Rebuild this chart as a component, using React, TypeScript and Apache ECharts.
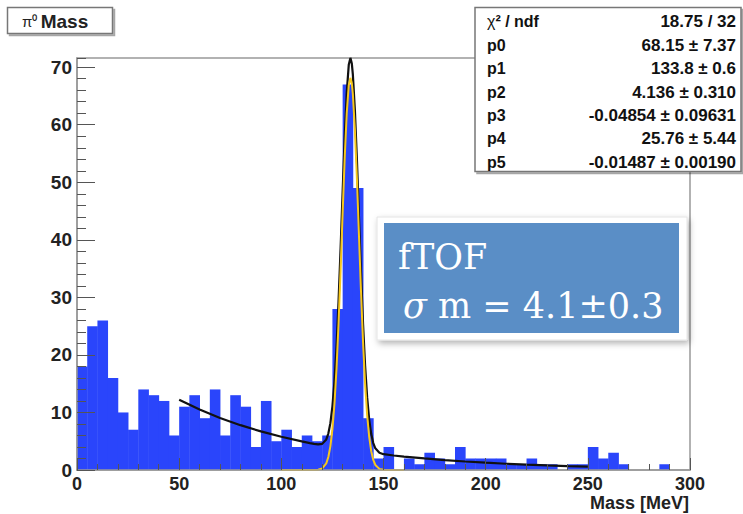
import React, { useEffect, useRef } from "react";
import * as echarts from "echarts";

// Histogram: bin lower edges (MeV), bin width 5 MeV, and counts
const BIN_WIDTH = 5;
const binStarts = [
  0, 5, 10, 15, 20, 25, 30, 35, 40, 45, 50, 55, 60, 65, 70, 75, 80, 85, 90, 95,
  100, 105, 110, 115, 120, 125, 130, 135, 140, 145, 150, 155, 160, 165, 170, 175, 180, 185, 190, 195,
  200, 205, 210, 215, 220, 225, 230, 235, 240, 245, 250, 255, 260, 265, 270, 275, 280, 285, 290, 295,
];
const counts = [
  18, 25, 26, 16, 10, 7, 14, 13, 12, 6, 11, 13, 9, 14, 6, 13, 11, 4, 12, 5,
  7, 4, 6, 5, 6, 28, 67, 49, 9, 2, 4, 0, 2, 1, 3, 2, 1, 4, 2, 2,
  2, 2, 1, 1, 2, 1, 1, 0, 1, 1, 4, 2, 3, 1, 0, 0, 0, 1, 0, 0,
];

// Full fit curve (black)
const fitX = [50, 60, 70, 80, 90, 100, 110, 114, 116, 118, 120, 122, 123, 124, 125, 126, 127, 128, 129, 130, 131, 132, 133, 133.8, 134.5, 135, 136, 137, 138, 139, 140, 141, 142, 143, 144, 145, 146, 148, 150, 155, 160, 170, 180, 190, 200, 210, 220, 230, 240, 250];
const fitY = [12.2, 10.51, 9.05, 7.79, 6.71, 5.77, 4.97, 4.68, 4.55, 4.46, 4.54, 5.31, 6.34, 8.14, 11.06, 15.42, 21.49, 29.28, 38.49, 48.37, 57.82, 65.56, 70.41, 71.62, 70.62, 68.76, 62.52, 53.83, 43.96, 34.13, 25.32, 18.09, 12.62, 8.76, 6.24, 4.68, 3.77, 2.99, 2.75, 2.52, 2.34, 2.01, 1.72, 1.48, 1.27, 1.09, 0.93, 0.79, 0.68, 0.58];

// Signal-only curve (yellow)
const sigX = [100, 110, 114, 116, 118, 120, 122, 123, 124, 125, 126, 127, 128, 129, 130, 131, 132, 133, 133.8, 134.5, 135, 136, 137, 138, 139, 140, 141, 142, 143, 144, 145, 146, 148, 150, 152, 160];
const sigY = [0, 0, 0, 0.01, 0.05, 0.26, 1.16, 2.25, 4.11, 7.09, 11.51, 17.64, 25.49, 34.75, 44.69, 54.19, 61.99, 66.89, 68.15, 67.18, 65.34, 59.16, 50.52, 40.7, 30.92, 22.16, 14.98, 9.55, 5.74, 3.26, 1.74, 0.88, 0.19, 0.03, 0, 0];

// Stats box
const statLabels = ["χ² / ndf", "p0", "p1", "p2", "p3", "p4", "p5"];
const statValues = ["18.75 / 32", "68.15 ± 7.37", "133.8 ± 0.6", "4.136 ± 0.310", "-0.04854 ± 0.09631", "25.76 ± 5.44", "-0.01487 ± 0.00190"];

const xTicks = { min: 0, max: 300, interval: 50 };
const yTicks = { min: 0, max: 71.6, interval: 10 };

const SANS = "'Liberation Sans', Arial, Helvetica, sans-serif";
const SERIF = "'DejaVu Serif', 'Liberation Serif', serif";
const BLUE = "#2a45fb";

export default function App() {
  const ref = useRef<HTMLDivElement>(null);
  useEffect(() => {
    if (!ref.current) return;
    const chart = echarts.init(ref.current, undefined, { renderer: "svg" });

    const histData = binStarts.map((x, i) => [x, counts[i]]);
    const fitData = fitX.map((x, i) => [x, fitY[i]]);
    const sigData = sigX.map((x, i) => [x, sigY[i]]);

    const rowY = [21, 45, 68.5, 92, 115, 138.5, 162];
    const statGraphics: any[] = [];
    statLabels.forEach((lab, i) => {
      statGraphics.push({
        type: "text",
        x: 487,
        y: rowY[i],
        z: 102,
        style: {
          text: i === 0 ? "{n|χ}{b|² / ndf}" : lab,
          font: `bold 16px ${SANS}`,
          fill: "#111",
          align: "left",
          verticalAlign: "middle",
          rich: i === 0 ? {
            n: { fontFamily: SANS, fontSize: 16, fontWeight: "normal", fill: "#111" },
            b: { fontFamily: SANS, fontSize: 16, fontWeight: "bold", fill: "#111" },
          } : undefined,
        },
      });
      statGraphics.push({
        type: "text",
        x: 736,
        y: rowY[i],
        z: 102,
        style: {
          text: statValues[i],
          font: `bold 17px ${SANS}`,
          fill: "#111",
          align: "right",
          verticalAlign: "middle",
        },
      });
    });

    chart.setOption({
      animation: false,
      backgroundColor: "#fff",
      grid: {
        left: 77, right: 53, top: 58, bottom: 44,
        show: true, borderColor: "#999", borderWidth: 1.5, backgroundColor: "transparent",
      },
      xAxis: {
        type: "value",
        min: xTicks.min, max: xTicks.max, interval: xTicks.interval,
        z: 10,
        axisLine: { show: true, onZero: false, lineStyle: { color: "#999", width: 1.5 } },
        axisTick: { show: true, inside: true, length: 12, lineStyle: { color: "#555", width: 1 } },
        minorTick: { show: true, splitNumber: 5, length: 6, lineStyle: { color: "#555", width: 1 } },
        splitLine: { show: false },
        axisLabel: { margin: 5, fontSize: 18, fontWeight: "bold", color: "#222", fontFamily: SANS },
      },
      yAxis: [
        {
          type: "value",
          min: yTicks.min, max: yTicks.max, interval: yTicks.interval,
          z: 10,
          axisLine: { show: true, onZero: false, lineStyle: { color: "#999", width: 1.5 } },
          axisTick: { show: true, inside: true, length: 18, lineStyle: { color: "#555", width: 1 } },
          splitLine: { show: false },
          axisLabel: { margin: 5, fontSize: 19, fontWeight: "bold", color: "#222", fontFamily: SANS, showMaxLabel: false },
        },
        {
          type: "value",
          min: yTicks.min, max: yTicks.max, interval: 2,
          position: "left",
          z: 10,
          axisLine: { show: false },
          axisTick: { show: true, inside: true, length: 9, lineStyle: { color: "#555", width: 1 } },
          splitLine: { show: false },
          axisLabel: { show: false },
        },
      ],
      series: [
        {
          type: "custom",
          data: histData,
          encode: { x: 0, y: 1 },
          clip: true,
          z: 2,
          renderItem: (params: any, api: any) => {
            const x0 = api.value(0);
            const h = api.value(1);
            if (!h) return null;
            const p0 = api.coord([x0, 0]);
            const p1 = api.coord([x0 + BIN_WIDTH, h]);
            return {
              type: "rect",
              shape: { x: p0[0], y: p1[1], width: p1[0] - p0[0] + 0.4, height: p0[1] - p1[1] },
              style: { fill: BLUE },
            };
          },
        },
        {
          type: "line",
          data: fitData,
          showSymbol: false,
          clip: false,
          z: 3,
          lineStyle: { color: "#111", width: 2.2 },
        },
        {
          type: "line",
          data: sigData,
          showSymbol: false,
          clip: false,
          z: 4,
          lineStyle: { color: "#f6c71c", width: 2 },
        },
      ],
      graphic: [
        // title box
        {
          type: "rect", z: 100,
          shape: { x: 7.5, y: 7.5, width: 105, height: 26 },
          style: { fill: "#fff", stroke: "#777", lineWidth: 1.5, shadowColor: "rgba(0,0,0,0.35)", shadowOffsetX: 2, shadowOffsetY: 2, shadowBlur: 1 },
        },
        {
          type: "text", z: 101, x: 22, y: 21,
          style: {
            text: "{p|π⁰} {b|Mass}",
            align: "left", verticalAlign: "middle",
            rich: {
              p: { fontFamily: SANS, fontSize: 15, fontWeight: "normal", fill: "#222" },
              b: { fontFamily: SANS, fontSize: 19, fontWeight: "bold", fill: "#222" },
            },
          },
        },
        // stats box
        {
          type: "rect", z: 100,
          shape: { x: 475, y: 7.5, width: 266, height: 164 },
          style: { fill: "#fff", stroke: "#777", lineWidth: 1.5, shadowColor: "rgba(0,0,0,0.35)", shadowOffsetX: 2, shadowOffsetY: 2, shadowBlur: 1 },
        },
        ...statGraphics,
        // fTOF box
        {
          type: "rect", z: 100,
          shape: { x: 377, y: 217, width: 310, height: 123 },
          style: { fill: "#fff", stroke: "#e4e4e4", lineWidth: 1, shadowColor: "rgba(0,0,0,0.3)", shadowOffsetX: 2, shadowOffsetY: 3, shadowBlur: 6 },
        },
        {
          type: "rect", z: 101,
          shape: { x: 384, y: 223, width: 295, height: 110 },
          style: { fill: "#5a8ec6" },
        },
        {
          type: "text", z: 102, x: 398, y: 257,
          style: { text: "fTOF", font: `35px ${SERIF}`, fill: "#fff", align: "left", verticalAlign: "middle" },
        },
        {
          type: "text", z: 102, x: 403, y: 306,
          style: {
            text: "{i|σ} m = 4.1±0.3",
            font: `35px ${SERIF}`, fill: "#fff", align: "left", verticalAlign: "middle",
            rich: {
              i: { fontFamily: SERIF, fontSize: 35, fontStyle: "italic", fill: "#fff" },
            },
          },
        },
        // x-axis title
        {
          type: "text", z: 50, x: 689, y: 503,
          style: { text: "Mass [MeV]", font: `bold 18px ${SANS}`, fill: "#222", align: "right", verticalAlign: "middle" },
        },
      ],
    });
    return () => chart.dispose();
  }, []);
  return <div ref={ref} style={{ position: "absolute", left: 0, top: 0, width: 743, height: 514 }} />;
}
